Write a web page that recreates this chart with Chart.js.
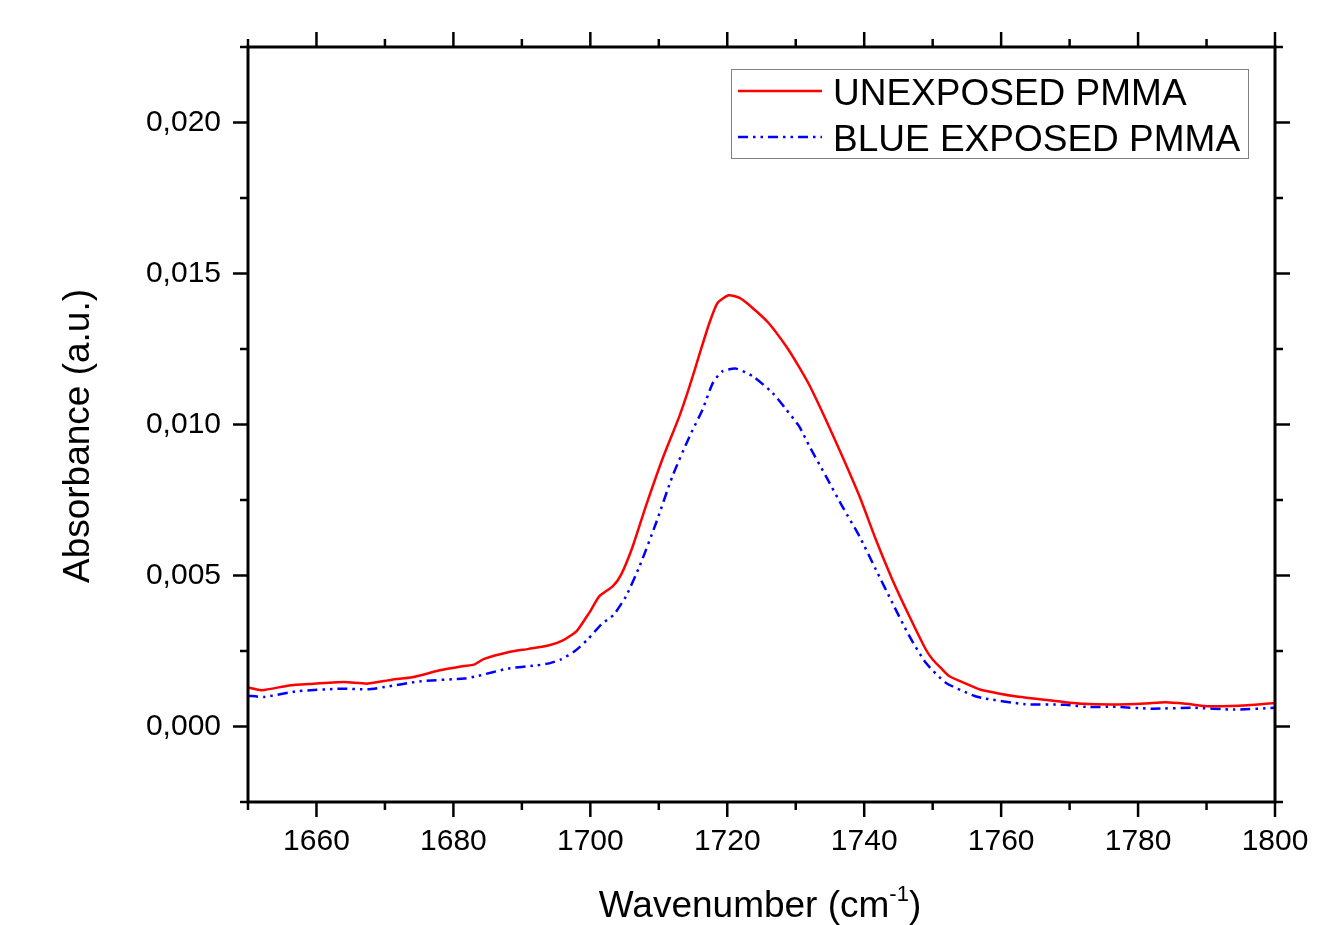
<!DOCTYPE html>
<html>
<head>
<meta charset="utf-8">
<script src="https://cdn.jsdelivr.net/npm/chart.js@4.4.1/dist/chart.umd.min.js"></script>
<style>
  body { margin: 0; background: #fff; }
  canvas { display: block; }
</style>
</head>
<body>
<canvas id="ftir" width="1336" height="925"></canvas>
<script>
// values
const unexposedWavenumber = [1650, 1652, 1656, 1659, 1664, 1667.5, 1671, 1674, 1678, 1681.5, 1683, 1684.5, 1688, 1691, 1694, 1696, 1698, 1699.5, 1700, 1701.3, 1703.3, 1704.5, 1706.2, 1708.1, 1710.6, 1713, 1714.5, 1716, 1717.4, 1718.6, 1720.2, 1721.8, 1723.7, 1726, 1728.6, 1730.5, 1732, 1734.4, 1736.8, 1739.3, 1741.7, 1744.1, 1746.6, 1749, 1750, 1751.4, 1752.4, 1754, 1756.3, 1757.3, 1762, 1767, 1772, 1777, 1781, 1784, 1787, 1790.4, 1796, 1800];
const unexposedAbs = [0.00129, 0.00120, 0.00136, 0.00141, 0.00147, 0.00142, 0.00155, 0.00163, 0.00186, 0.00200, 0.00205, 0.00224, 0.00246, 0.00257, 0.00269, 0.00285, 0.00316, 0.00365, 0.00382, 0.00431, 0.00465, 0.00503, 0.00597, 0.00729, 0.00890, 0.01027, 0.01127, 0.01237, 0.01337, 0.01403, 0.01428, 0.01419, 0.01386, 0.01337, 0.01259, 0.01190, 0.01130, 0.01016, 0.00895, 0.00763, 0.00619, 0.00487, 0.00365, 0.00255, 0.00222, 0.00189, 0.00167, 0.00150, 0.00128, 0.00120, 0.00100, 0.00087, 0.00075, 0.00073, 0.00076, 0.00080, 0.00075, 0.00067, 0.00070, 0.00078];

const blueWavenumber = [1650, 1652.4, 1657.3, 1663.6, 1667.5, 1670, 1675.3, 1681.6, 1683.5, 1688, 1692, 1694, 1695.7, 1697.7, 1699.6, 1701.6, 1703.4, 1705.2, 1707.2, 1709.6, 1712, 1714.5, 1716.4, 1717.9, 1719.3, 1721.3, 1723.7, 1726.6, 1728.6, 1730.5, 1732, 1734.4, 1736.8, 1739.3, 1741.7, 1744.1, 1746.6, 1749, 1751.9, 1755.8, 1757.3, 1763.5, 1769.4, 1772.4, 1776.7, 1782, 1788, 1794, 1800];
const blueAbs = [0.00102, 0.00098, 0.00117, 0.00125, 0.00123, 0.00131, 0.00150, 0.00159, 0.00167, 0.00192, 0.00202, 0.00209, 0.00222, 0.00249, 0.00288, 0.00338, 0.00370, 0.00431, 0.00531, 0.00674, 0.00829, 0.00961, 0.01050, 0.01138, 0.01176, 0.01185, 0.01160, 0.01105, 0.01050, 0.00994, 0.00928, 0.00829, 0.00729, 0.00630, 0.00520, 0.00410, 0.00299, 0.00211, 0.00145, 0.00104, 0.00094, 0.00074, 0.00072, 0.00065, 0.00065, 0.00059, 0.00062, 0.00056, 0.00062];

const seriesLabels = ['UNEXPOSED PMMA', 'BLUE EXPOSED PMMA'];

// axis ticks
const xMajorTicks = [1660, 1680, 1700, 1720, 1740, 1760, 1780, 1800];
const xMinorTicks = [1650, 1670, 1690, 1710, 1730, 1750, 1770, 1790];
const yMajorTicks = [0, 0.005, 0.010, 0.015, 0.020];
const yMinorTicks = [-0.0025, 0.0025, 0.0075, 0.0125, 0.0175, 0.0225];

const FONT = "'Liberation Sans', Arial, sans-serif";

const toPoints = (xs, ys) => xs.map((x, i) => ({ x: x, y: ys[i] }));

// frame, ticks on all four sides, axis titles and the boxed legend
const framePlugin = {
    id: 'frame',
    afterDraw(chart) {
        const { ctx, chartArea: a, scales } = chart;
        const xs = scales.x, ys = scales.y;
        ctx.save();
        ctx.strokeStyle = '#000';
        ctx.lineWidth = 2.5;
        const tick = (x1, y1, x2, y2) => {
            ctx.beginPath(); ctx.moveTo(x1, y1); ctx.lineTo(x2, y2); ctx.stroke();
        };
        xMajorTicks.concat(xMinorTicks).forEach(v => {
            const len = xMajorTicks.includes(v) ? 15 : 8;
            const px = xs.getPixelForValue(v);
            tick(px, a.bottom, px, a.bottom + len);
            tick(px, a.top, px, a.top - len);
        });
        yMajorTicks.concat(yMinorTicks).forEach(v => {
            const len = yMajorTicks.includes(v) ? 15 : 8;
            const py = ys.getPixelForValue(v);
            tick(a.left, py, a.left - len, py);
            tick(a.right, py, a.right + len, py);
        });
        ctx.lineWidth = 3;
        ctx.strokeRect(a.left, a.top, a.right - a.left, a.bottom - a.top);

        // axis titles
        ctx.fillStyle = '#000';
        ctx.textBaseline = 'alphabetic';
        ctx.font = '37px ' + FONT;
        const main = 'Wavenumber (cm';
        const sup = '-1';
        const close = ')';
        const wMain = ctx.measureText(main).width;
        const wClose = ctx.measureText(close).width;
        ctx.font = '22px ' + FONT;
        const wSup = ctx.measureText(sup).width;
        let tx = 760 - (wMain + wSup + wClose) / 2;
        const ty = 917;
        ctx.font = '37px ' + FONT;
        ctx.textAlign = 'left';
        ctx.fillText(main, tx, ty);
        ctx.font = '22px ' + FONT;
        ctx.fillText(sup, tx + wMain, ty - 16);
        ctx.font = '37px ' + FONT;
        ctx.fillText(close, tx + wMain + wSup, ty);

        ctx.save();
        ctx.translate(89, 436);
        ctx.rotate(-Math.PI / 2);
        ctx.textAlign = 'center';
        ctx.font = '37px ' + FONT;
        ctx.fillText('Absorbance (a.u.)', 0, 0);
        ctx.restore();

        // legend box
        const box = { x: 731, y: 69, w: 517, h: 89 };
        ctx.fillStyle = '#fff';
        ctx.fillRect(box.x, box.y, box.w, box.h);
        ctx.strokeStyle = '#7f7f7f';
        ctx.lineWidth = 1;
        ctx.strokeRect(box.x + 0.5, box.y + 0.5, box.w, box.h);
        chart.data.datasets.forEach((ds, i) => {
            const ly = 91 + i * 46;
            ctx.strokeStyle = ds.borderColor;
            ctx.lineWidth = ds.borderWidth;
            ctx.setLineDash(ds.borderDash || []);
            tick(738, ly, 822, ly);
            ctx.setLineDash([]);
            ctx.fillStyle = '#000';
            ctx.font = '37px ' + FONT;
            ctx.textAlign = 'left';
            ctx.fillText(ds.label, 833, ly + 14);
        });
        ctx.restore();
    }
};

new Chart(document.getElementById('ftir'), {
    type: 'line',
    data: {
        datasets: [{
            label: seriesLabels[0],
            data: toPoints(unexposedWavenumber, unexposedAbs),
            borderColor: '#ff0000',
            borderWidth: 2.5,
            pointRadius: 0,
            fill: false,
            tension: 0.2
        }, {
            label: seriesLabels[1],
            data: toPoints(blueWavenumber, blueAbs),
            borderColor: '#0000ff',
            borderWidth: 2.5,
            borderDash: [10, 5, 2.5, 5, 2.5, 5],
            pointRadius: 0,
            fill: false,
            tension: 0.2
        }]
    },
    options: {
        responsive: false,
        animation: false,
        layout: { padding: { top: 47, right: 61, left: 0, bottom: 0 } },
        plugins: { legend: { display: false }, tooltip: { enabled: false } },
        scales: {
            x: {
                type: 'linear',
                min: 1650,
                max: 1800,
                afterBuildTicks: s => { s.ticks = xMajorTicks.map(v => ({ value: v })); },
                afterFit: s => { s.height = 123; },
                grid: { display: false, drawTicks: false },
                border: { display: false },
                ticks: {
                    padding: 22,
                    color: '#000',
                    font: { family: FONT, size: 30 },
                    callback: v => String(v)
                }
            },
            y: {
                min: -0.0025,
                max: 0.0225,
                afterBuildTicks: s => { s.ticks = yMajorTicks.map(v => ({ value: v })); },
                afterFit: s => { s.width = 248; },
                grid: { display: false, drawTicks: false },
                border: { display: false },
                ticks: {
                    padding: 27,
                    color: '#000',
                    font: { family: FONT, size: 30 },
                    callback: v => v.toFixed(3).replace('.', ',')
                }
            }
        }
    },
    plugins: [framePlugin]
});
</script>
</body>
</html>
